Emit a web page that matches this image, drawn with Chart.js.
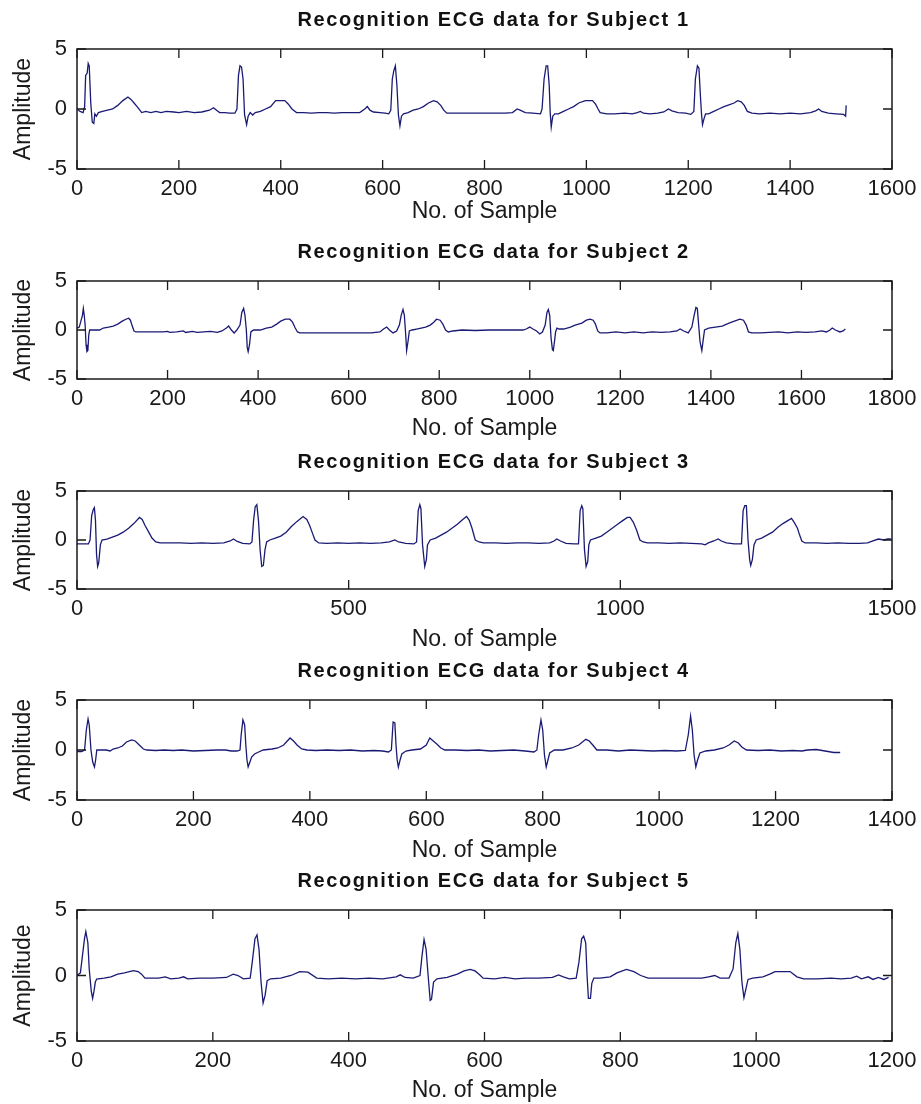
<!DOCTYPE html>
<html><head><meta charset="utf-8">
<script src="https://cdn.jsdelivr.net/npm/chart.js@4.4.1/dist/chart.umd.min.js"></script>
<style>
html,body{margin:0;padding:0;background:#fff;}
#wrap{position:relative;width:921px;height:1104px;overflow:hidden;background:#fff;}
canvas{position:absolute;left:0;}
</style></head><body><div id="wrap"></div>
<script>
// ---------- DATA ----------
const panelTitles = ['Recognition ECG data for Subject 1','Recognition ECG data for Subject 2','Recognition ECG data for Subject 3','Recognition ECG data for Subject 4','Recognition ECG data for Subject 5'];
const xAxisLabel = 'No. of Sample';
const yAxisLabel = 'Amplitude';
const xAxisMax = [1600, 1800, 1500, 1400, 1200];
const xTickStep = [200, 200, 500, 200, 200];
const yTickValues = [-5, 0, 5];

const subject1Sample = [0,6,12,15,17,20,22,24,27,30,33,35,38,42,50,60,70,80,90,100,106,112,120,127,135,145,155,165,175,190,200,215,230,245,260,268,274,280,290,300,310,314,317,320,323,326,329,333,336,340,345,350,360,370,380,390,400,408,415,422,431,445,460,475,490,505,520,540,555,565,570,575,582,595,605,612,616,619,622,625,628,631,634,637,641,650,660,670,680,690,700,707,714,720,726,740,760,780,800,820,840,855,864,870,880,895,910,913,917,921,924,927,929,931,934,938,945,955,965,975,985,998,1012,1018,1023,1027,1040,1055,1075,1090,1100,1106,1112,1125,1140,1152,1161,1168,1180,1195,1205,1211,1214,1218,1221,1224,1226,1228,1231,1234,1240,1250,1260,1270,1280,1290,1297,1304,1310,1316,1325,1340,1360,1380,1400,1420,1440,1450,1456,1462,1475,1490,1505,1509,1510];
const subject1Amp = [0.0,-0.2,-0.3,0.2,2.8,3.0,3.8,3.6,0.5,-1.1,-1.2,-0.4,-0.6,-0.3,-0.2,-0.1,0.0,0.3,0.7,1.0,0.8,0.5,0.1,-0.3,-0.2,-0.3,-0.2,-0.3,-0.2,-0.25,-0.3,-0.2,-0.3,-0.25,-0.1,0.1,-0.1,-0.3,-0.3,-0.35,-0.35,0.0,2.8,3.6,3.5,2.5,-0.5,-1.3,-0.6,-0.3,-0.5,-0.3,-0.2,0.0,0.2,0.7,0.7,0.7,0.4,0.0,-0.3,-0.3,-0.35,-0.3,-0.3,-0.35,-0.3,-0.3,-0.3,0.0,0.2,-0.1,-0.25,-0.3,-0.35,-0.4,-0.1,2.5,3.2,3.6,2.0,-0.5,-1.4,-0.6,-0.4,-0.3,-0.1,0.0,0.2,0.5,0.7,0.6,0.3,-0.1,-0.35,-0.35,-0.35,-0.35,-0.35,-0.35,-0.35,-0.3,0.0,-0.1,-0.3,-0.35,-0.4,0.0,2.5,3.6,3.6,2.0,-0.3,-1.5,-0.6,-0.4,-0.4,-0.2,0.0,0.2,0.5,0.7,0.7,0.4,0.0,-0.3,-0.4,-0.4,-0.35,-0.4,-0.3,-0.2,-0.35,-0.4,-0.35,-0.25,0.0,-0.15,-0.3,-0.35,-0.45,-0.2,2.5,3.6,3.4,1.0,-0.4,-1.3,-0.8,-0.4,-0.4,-0.2,0.0,0.2,0.35,0.5,0.7,0.6,0.3,-0.2,-0.35,-0.4,-0.35,-0.4,-0.35,-0.4,-0.3,-0.15,0.0,-0.2,-0.35,-0.4,-0.45,-0.6,0.3];

const subject2Sample = [0,5,8,12,14,16,18,20,22,24,26,28,40,50,58,70,80,90,100,108,114,118,122,126,130,150,170,190,200,205,220,235,240,255,265,280,295,310,320,330,335,341,347,353,360,364,368,371,374,376,378,381,384,390,405,418,430,441,450,460,470,476,482,487,492,510,530,560,590,620,650,669,677,684,690,698,706,712,716,720,723,726,728,731,734,740,750,760,770,780,788,794,802,808,814,820,830,850,880,910,940,965,985,992,1000,1007,1015,1022,1028,1034,1038,1041,1044,1047,1050,1052,1055,1057,1060,1065,1075,1090,1100,1115,1125,1133,1140,1145,1150,1155,1170,1190,1210,1230,1250,1270,1290,1310,1325,1332,1340,1350,1358,1363,1367,1370,1373,1376,1380,1383,1386,1395,1410,1425,1440,1452,1464,1472,1478,1483,1490,1510,1530,1550,1570,1590,1610,1630,1645,1655,1663,1668,1675,1685,1692,1697];
const subject2Amp = [0.2,0.3,0.8,1.5,2.2,1.5,0.5,-1.5,-2.2,-2.1,-0.5,0.0,0.0,0.0,0.2,0.3,0.4,0.6,0.9,1.1,1.2,1.0,0.4,-0.1,-0.2,-0.2,-0.2,-0.2,-0.15,-0.25,-0.2,-0.1,-0.25,-0.15,-0.25,-0.2,-0.15,-0.25,-0.1,0.2,0.4,0.0,-0.3,0.0,0.5,1.8,2.2,1.5,0.0,-1.8,-2.2,-1.5,-0.2,0.0,0.0,0.2,0.3,0.6,0.9,1.1,1.1,0.8,0.2,-0.2,-0.3,-0.3,-0.3,-0.3,-0.3,-0.3,-0.3,-0.2,0.1,0.3,0.0,-0.3,-0.1,0.5,1.5,2.1,1.5,-0.5,-2.1,-1.2,-0.1,0.0,0.1,0.2,0.3,0.5,0.8,1.1,1.0,0.6,0.0,-0.2,-0.1,0.0,-0.05,0.0,0.0,0.0,0.0,0.1,0.3,0.1,-0.1,-0.4,-0.2,0.5,1.8,2.1,1.5,-0.8,-2.0,-2.1,-1.0,-0.2,0.2,0.1,0.1,0.3,0.5,0.7,1.0,1.1,1.0,0.6,-0.1,-0.3,-0.3,-0.2,-0.3,-0.2,-0.3,-0.2,-0.25,-0.2,-0.1,0.1,-0.1,-0.3,0.3,1.5,2.3,2.2,0.5,-1.2,-2.1,-1.0,0.0,0.2,0.3,0.4,0.7,0.9,1.1,1.0,0.5,-0.2,-0.3,-0.3,-0.25,-0.2,-0.3,-0.2,-0.25,-0.2,-0.1,-0.2,0.0,0.2,0.0,-0.2,-0.1,0.1];

const subject3Sample = [0,10,21,24,27,30,32,34,36,38,40,43,46,55,65,75,85,95,105,115,120,125,132,138,145,153,170,190,210,230,250,270,282,288,295,305,318,322,325,328,331,334,337,340,343,346,349,355,365,375,385,395,405,416,423,428,434,438,445,460,480,500,520,540,560,575,585,592,605,620,625,628,631,633,636,640,643,645,650,660,670,680,690,700,710,717,722,727,733,740,748,770,790,810,830,850,870,878,883,890,900,915,923,926,929,931,934,937,940,942,945,955,965,975,985,995,1005,1013,1018,1024,1030,1036,1042,1050,1070,1090,1110,1130,1150,1156,1162,1172,1180,1186,1195,1210,1223,1226,1229,1232,1235,1238,1240,1243,1246,1250,1260,1270,1280,1290,1300,1309,1315,1320,1326,1330,1334,1340,1360,1380,1400,1420,1440,1455,1465,1475,1485,1492,1498];
const subject3Amp = [-0.4,-0.4,-0.4,0.0,2.5,3.1,3.3,2.0,-1.5,-2.7,-2.3,-0.5,0.0,0.1,0.3,0.5,0.8,1.2,1.7,2.3,2.1,1.5,0.8,0.2,-0.2,-0.3,-0.3,-0.3,-0.35,-0.3,-0.35,-0.3,-0.1,0.1,-0.15,-0.35,-0.4,-0.2,2.0,3.4,3.6,2.0,-1.0,-2.7,-2.6,-1.0,-0.2,0.0,0.2,0.4,0.8,1.4,1.9,2.4,2.1,1.5,0.6,0.0,-0.3,-0.35,-0.3,-0.35,-0.3,-0.35,-0.3,-0.2,0.0,-0.2,-0.35,-0.4,-0.2,3.0,3.6,3.2,-0.5,-2.7,-2.0,-0.5,0.0,0.2,0.5,0.8,1.2,1.6,2.1,2.4,2.0,1.2,0.0,-0.2,-0.3,-0.3,-0.35,-0.3,-0.3,-0.35,-0.3,-0.1,0.1,-0.1,-0.35,-0.4,-0.4,3.0,3.5,3.2,-1.0,-2.7,-2.2,-0.5,0.0,0.2,0.4,0.8,1.2,1.6,2.0,2.3,2.3,1.8,1.0,0.0,-0.2,-0.3,-0.3,-0.35,-0.3,-0.35,-0.4,-0.5,-0.3,-0.1,0.1,-0.1,-0.3,-0.4,-0.4,3.0,3.5,3.5,0.0,-2.0,-2.6,-2.0,-0.5,0.0,0.2,0.5,0.8,1.3,1.7,2.0,2.2,1.8,1.2,0.5,-0.1,-0.3,-0.3,-0.35,-0.3,-0.35,-0.35,-0.3,-0.1,0.1,0.0,0.1,0.1];

const subject4Sample = [0,8,13,16,19,21,24,27,30,32,34,40,50,57,62,70,78,85,94,100,107,114,120,135,150,165,180,200,220,240,255,265,275,280,282,285,288,290,292,294,297,300,305,312,320,335,345,355,366,372,378,386,395,410,430,450,470,490,510,525,535,540,543,546,548,550,552,555,558,565,575,590,600,606,612,618,625,632,650,670,690,710,730,750,770,785,790,793,797,800,803,806,809,812,820,835,850,862,874,880,886,893,910,930,950,970,990,1010,1030,1045,1050,1054,1057,1060,1063,1066,1070,1080,1095,1110,1120,1129,1136,1142,1150,1170,1190,1210,1230,1245,1255,1270,1285,1300,1311];
const subject4Amp = [-0.15,-0.15,0.0,2.0,3.1,2.5,0.0,-1.2,-1.7,-1.0,0.0,0.0,0.0,-0.1,0.1,0.2,0.4,0.8,1.0,0.9,0.5,0.1,0.0,-0.05,0.0,-0.05,0.0,-0.1,-0.05,0.0,0.0,-0.1,-0.1,0.0,1.5,3.0,2.5,0.5,-1.0,-1.7,-1.2,-0.7,-0.4,-0.2,0.0,0.1,0.2,0.5,1.2,0.9,0.5,0.1,0.0,-0.05,0.0,-0.05,0.0,-0.1,-0.05,-0.1,-0.2,0.0,2.8,2.7,0.5,-1.0,-1.7,-1.0,-0.4,-0.1,0.0,0.1,0.5,1.2,0.9,0.6,0.2,0.0,0.0,-0.05,0.0,-0.1,-0.05,0.0,-0.1,-0.2,0.0,1.5,3.0,2.0,-0.5,-1.7,-1.0,-0.3,0.0,0.0,0.2,0.5,1.07,0.9,0.5,0.0,0.0,-0.1,0.0,-0.05,-0.1,-0.05,-0.1,-0.05,1.5,3.4,2.0,-0.5,-1.7,-1.0,-0.3,-0.1,0.0,0.2,0.5,0.9,0.7,0.3,0.0,-0.05,0.0,-0.1,-0.05,-0.1,0.0,0.05,-0.1,-0.25,-0.25];

const subject5Sample = [0,5,8,11,13,16,18,21,23,25,27,29,40,50,60,70,83,90,95,100,120,130,138,150,157,163,180,200,220,230,237,245,255,258,262,265,268,271,274,277,280,285,300,315,328,340,353,370,390,410,430,450,470,476,483,495,505,508,511,514,517,520,522,525,530,545,560,570,579,586,592,598,615,630,645,660,680,700,709,716,725,735,739,743,746,749,751,753,756,758,761,770,785,795,809,820,830,841,860,880,900,920,930,939,947,960,966,970,973,976,979,982,985,988,995,1010,1020,1028,1050,1060,1070,1090,1110,1125,1140,1148,1155,1165,1172,1180,1188,1195];
const subject5Amp = [0.0,0.2,1.5,2.8,3.35,2.5,0.5,-1.2,-1.75,-1.2,-0.5,-0.27,-0.2,-0.1,0.1,0.2,0.37,0.3,0.1,-0.2,-0.2,-0.1,-0.25,-0.2,-0.1,-0.25,-0.2,-0.2,-0.15,0.1,0.0,-0.25,-0.2,1.0,2.8,3.1,2.0,-0.5,-2.1,-1.5,-0.4,-0.25,-0.2,0.0,0.3,0.25,-0.2,-0.25,-0.2,-0.25,-0.2,-0.25,-0.1,0.05,-0.15,-0.2,0.0,1.5,2.75,2.0,0.0,-1.9,-1.8,-0.5,-0.25,-0.15,0.1,0.35,0.47,0.35,0.1,-0.2,-0.25,-0.15,-0.25,-0.2,-0.2,-0.15,0.05,-0.1,-0.25,-0.2,1.0,2.8,3.0,2.5,0.0,-1.75,-1.75,-0.6,-0.2,-0.2,-0.1,0.2,0.47,0.3,0.0,-0.2,-0.2,-0.2,-0.2,-0.2,-0.1,0.0,-0.2,-0.2,0.5,2.5,3.2,2.0,-0.5,-1.7,-1.0,-0.3,-0.2,-0.1,0.1,0.3,0.3,-0.1,-0.25,-0.25,-0.2,-0.25,-0.2,-0.05,-0.25,-0.1,-0.3,-0.15,-0.3,-0.15];

const sampleSeries = [subject1Sample, subject2Sample, subject3Sample, subject4Sample, subject5Sample];
const ampSeries = [subject1Amp, subject2Amp, subject3Amp, subject4Amp, subject5Amp];

// ---------- LAYOUT / STYLE ----------
const PANEL_TOP = [49, 281, 491, 700, 910];
const PANEL_H = [120, 98, 98, 100, 131];
const XLABEL_PAD = [10, 3, 1.5, 2, 3];
const ABOVE = 40, BELOW = 66, W = 921, RIGHT_PAD = 29, YAXIS_W = 77;
const LINE_COLOR = '#1a1a75';
const INK = '#1a1a1a';

Chart.defaults.font.family = '"Liberation Sans", Arial, Helvetica, sans-serif';
Chart.defaults.color = INK;

const decor = {
  id: 'panelDecor',
  afterDraw(chart, args, opts) {
    const {ctx, chartArea: a, scales: {x, y}} = chart;
    ctx.save();
    ctx.strokeStyle = INK;
    ctx.lineWidth = 1.5;
    ctx.strokeRect(a.left, a.top, a.right - a.left, a.bottom - a.top);
    ctx.lineWidth = 1.3;
    ctx.beginPath();
    x.ticks.forEach(t => {
      const p = x.getPixelForValue(t.value);
      ctx.moveTo(p, a.bottom); ctx.lineTo(p, a.bottom - 9);
      ctx.moveTo(p, a.top); ctx.lineTo(p, a.top + 9);
    });
    y.ticks.forEach(t => {
      const p = y.getPixelForValue(t.value);
      ctx.moveTo(a.left, p); ctx.lineTo(a.left + 9, p);
      ctx.moveTo(a.right, p); ctx.lineTo(a.right - 9, p);
    });
    ctx.stroke();
    ctx.fillStyle = '#111';
    ctx.font = 'bold 20px "Liberation Sans", Arial, sans-serif';
    try { ctx.letterSpacing = '1.6px'; } catch (e) {}
    ctx.textAlign = 'center';
    ctx.textBaseline = 'middle';
    ctx.fillText(opts.text, (a.left + a.right) / 2 + 9, a.top - 28.5);
    ctx.restore();
  }
};

const wrap = document.getElementById('wrap');
for (let i = 0; i < 5; i++) {
  const cv = document.createElement('canvas');
  const h = ABOVE + PANEL_H[i] + BELOW;
  cv.width = W; cv.height = h;
  cv.style.width = W + 'px'; cv.style.height = h + 'px';
  cv.style.top = (PANEL_TOP[i] - ABOVE) + 'px';
  wrap.appendChild(cv);
  const pts = sampleSeries[i].map((s, k) => ({x: s, y: ampSeries[i][k]}));
  new Chart(cv, {
    type: 'line',
    data: {datasets: [{data: pts, borderColor: LINE_COLOR, borderWidth: 1.3, pointRadius: 0, tension: 0, fill: false}]},
    options: {
      responsive: false, animation: false, devicePixelRatio: 1,
      layout: {padding: {left: 0, right: RIGHT_PAD, top: ABOVE, bottom: 0}},
      plugins: {legend: {display: false}, tooltip: {enabled: false}, title: {display: false},
                panelDecor: {text: panelTitles[i]}},
      scales: {
        x: {
          type: 'linear', min: 0, max: xAxisMax[i],
          grid: {display: false, drawTicks: false}, border: {display: false},
          ticks: {stepSize: xTickStep[i], padding: 7, autoSkip: false, maxRotation: 0, font: {size: 22}, color: INK,
                  callback: v => String(v)},
          title: {display: true, text: xAxisLabel, font: {size: 23}, color: INK, padding: {top: 0, bottom: XLABEL_PAD[i]}},
          afterFit: s => { s.height = BELOW; s.paddingLeft = 0; s.paddingRight = 0; }
        },
        y: {
          min: -5, max: 5,
          afterBuildTicks: s => { s.ticks = yTickValues.map(v => ({value: v})); },
          grid: {display: false, drawTicks: false}, border: {display: false},
          ticks: {padding: 10, font: {size: 22}, color: INK, callback: v => String(v)},
          title: {display: true, text: yAxisLabel, font: {size: 23}, color: INK, padding: {top: 10, bottom: 0}},
          afterFit: s => { s.width = YAXIS_W; s.paddingTop = 0; s.paddingBottom = 0; }
        }
      }
    },
    plugins: [decor]
  });
}
</script></body></html>
